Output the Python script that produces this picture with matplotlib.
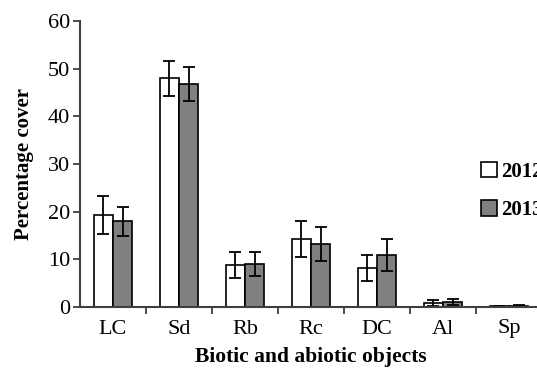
import numpy as np
import matplotlib.pyplot as plt

plt.rcParams['font.family'] = ['Liberation Serif', 'DejaVu Serif']

# data
categories = ['LC', 'Sd', 'Rb', 'Rc', 'DC', 'Al', 'Sp']
cover_2012 = [19.3, 48.0, 8.8, 14.2, 8.2, 0.8, 0.2]
err_2012 = [3.9, 3.7, 2.8, 3.8, 2.8, 0.6, 0.1]
cover_2013 = [18.0, 46.8, 9.1, 13.2, 10.9, 1.1, 0.3]
err_2013 = [3.0, 3.5, 2.5, 3.5, 3.3, 0.6, 0.1]

fig = plt.figure(figsize=(5.37, 3.71), dpi=100)
ax = fig.add_axes([80 / 537, 1 - 307 / 371, 462 / 537, 286 / 371])

x = np.arange(len(categories))
w = 0.29
ekw = dict(elinewidth=1.3, capthick=1.3)
ax.bar(x - w / 2, cover_2012, w, yerr=err_2012, color='white', edgecolor='black',
       linewidth=1.2, capsize=4, error_kw=ekw, label='2012')
ax.bar(x + w / 2, cover_2013, w, yerr=err_2013, color='#808080', edgecolor='black',
       linewidth=1.2, capsize=4, error_kw=ekw, label='2013')

ax.set_xlim(-0.5, len(categories) - 0.5)
ax.set_ylim(0, 60)
ax.set_yticks(range(0, 61, 10))
ax.set_xticks(x)
ax.set_xticklabels(categories)
ax.set_xticks(np.arange(len(categories)) + 0.5, minor=True)
ax.tick_params(axis='x', which='major', length=0, labelsize=16, pad=9)
ax.tick_params(axis='x', which='minor', length=5, width=1.3, color='#404040')
ax.tick_params(axis='y', labelsize=16, length=5, width=1.3, color='#404040', pad=2)

for side in ['top', 'right']:
    ax.spines[side].set_visible(False)
for side in ['left', 'bottom']:
    ax.spines[side].set_color('#404040')
    ax.spines[side].set_linewidth(1.5)

ax.set_ylabel('Percentage cover', fontsize=15, fontweight='bold', labelpad=10)
ax.set_xlabel('Biotic and abiotic objects', fontsize=15.5, fontweight='bold', labelpad=6)

fig.legend(loc='center left', bbox_to_anchor=(471 / 537, 1 - 191 / 371), frameon=False,
           prop={'size': 15, 'weight': 'bold'}, handlelength=0.75, handleheight=0.75,
           handletextpad=0.2, labelspacing=0.9, borderpad=0)

fig.savefig('out.png', dpi=100)
